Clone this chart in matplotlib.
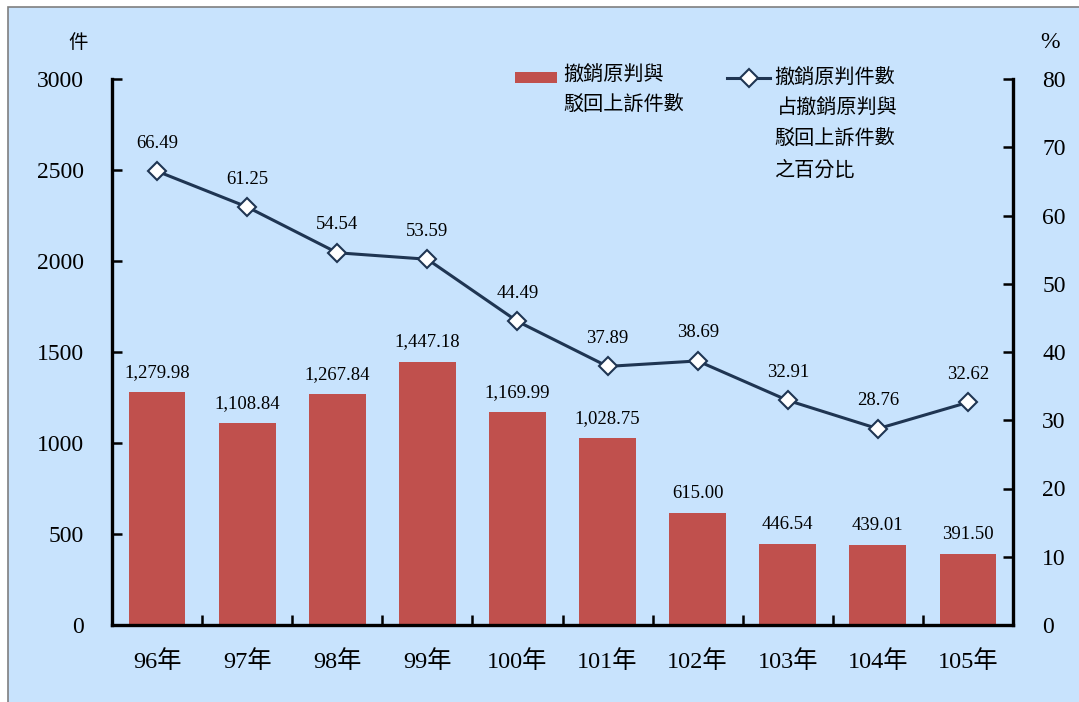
import numpy as np
import matplotlib
matplotlib.use("Agg")
import matplotlib.pyplot as plt
from matplotlib.patches import Rectangle
from matplotlib.lines import Line2D

# data
years = ["96年", "97年", "98年", "99年", "100年", "101年", "102年", "103年", "104年", "105年"]
cases = [1279.98, 1108.84, 1267.84, 1447.18, 1169.99, 1028.75, 615.00, 446.54, 439.01, 391.50]
percent = [66.49, 61.25, 54.54, 53.59, 44.49, 37.89, 38.69, 32.91, 28.76, 32.62]
left_ticks = [0, 500, 1000, 1500, 2000, 2500, 3000]
right_ticks = [0, 10, 20, 30, 40, 50, 60, 70, 80]

FONT = ["Liberation Serif", "Noto Sans CJK TC"]
CJK = ["Noto Sans CJK TC", "Liberation Serif"]
BG = "#C8E3FD"
BAR = "#C0504D"
LINE = "#1F3552"

plt.rcParams["font.family"] = FONT

fig = plt.figure(figsize=(10.79, 7.02), dpi=100)
fig.patch.set_facecolor("white")
bg = Rectangle((8 / 1079, -0.05), 1, 1.05 - 7 / 702, transform=fig.transFigure,
               facecolor=BG, edgecolor="#7F7F7F", linewidth=1.2, zorder=-10)
fig.add_artist(bg)

ax = fig.add_axes([112 / 1079, 1 - 625 / 702, (1013 - 112) / 1079, (625 - 79) / 702])
ax.set_facecolor("none")
ax2 = ax.twinx()
ax2.set_facecolor("none")

x = np.arange(len(years))
ax.bar(x, cases, width=0.63, color=BAR, zorder=2)
for xi, v in zip(x, cases):
    ax.annotate(f"{v:,.2f}", (xi, v), xytext=(0, 8), textcoords="offset points",
                ha="center", va="bottom", fontsize=13.5)

ax2.plot(x, percent, color=LINE, linewidth=2.2, marker="D", markersize=9,
         markerfacecolor="white", markeredgecolor=LINE, markeredgewidth=1.5, zorder=3)
for xi, v in zip(x, percent):
    ax2.annotate(f"{v:.2f}", (xi, v), xytext=(0, 14), textcoords="offset points",
                 ha="center", va="bottom", fontsize=13.5)

ax.set_xlim(-0.5, len(years) - 0.5)
ax.set_ylim(0, 3000)
ax2.set_ylim(0, 80)
ax.set_yticks(left_ticks)
ax2.set_yticks(right_ticks)
ax.set_xticks(x)
ax.set_xticklabels(years, fontsize=17.5, family=FONT)
ax.set_xticks(x[:-1] + 0.5, minor=True)
ax.tick_params(axis="x", which="major", length=0, pad=18)
ax.tick_params(axis="x", which="minor", direction="in", length=7, width=1.8)
ax.tick_params(axis="y", direction="in", length=7, width=1.8, labelsize=17, pad=20)
ax2.tick_params(axis="y", direction="in", length=7, width=1.8, labelsize=17, pad=21)

for a in (ax, ax2):
    a.spines["top"].set_visible(False)
    for s in ("left", "right", "bottom"):
        a.spines[s].set_linewidth(2.4)
ax.spines["right"].set_visible(False)
ax2.spines["left"].set_visible(False)
ax2.spines["bottom"].set_visible(False)

# unit labels
fig.text(78 / 1079, 1 - 42 / 702, "件", family=CJK, fontsize=14, ha="center", va="center")
fig.text(1050 / 1079, 1 - 42 / 702, "%", fontsize=17, ha="center", va="center")

# legend drawn by hand
fig.add_artist(Rectangle((515 / 1079, 1 - 83 / 702), 42 / 1079, 11 / 702,
                         transform=fig.transFigure, facecolor=BAR, edgecolor="none"))
fig.text(563 / 1079, 1 - 65 / 702, "撤銷原判與\n駁回上訴件數", family=CJK, fontsize=14.5,
         ha="left", va="top", linespacing=1.5)
fig.add_artist(Line2D([727 / 1079, 770 / 1079], [1 - 78 / 702, 1 - 78 / 702],
                      transform=fig.transFigure, color=LINE, linewidth=2.2))
fig.add_artist(Line2D([748.5 / 1079], [1 - 78 / 702], transform=fig.transFigure,
                      marker="D", markersize=9, markerfacecolor="white",
                      markeredgecolor=LINE, markeredgewidth=1.5, linestyle="none"))
fig.text(774 / 1079, 1 - 78 / 702, "撤銷原判件數", family=CJK, fontsize=14.5,
         ha="left", va="center")
fig.text(777 / 1079, 1 - 108 / 702, "占撤銷原判與", family=CJK, fontsize=14.5,
         ha="left", va="center")
fig.text(774 / 1079, 1 - 138 / 702, "駁回上訴件數", family=CJK, fontsize=14.5,
         ha="left", va="center")
fig.text(774 / 1079, 1 - 170 / 702, "之百分比", family=CJK, fontsize=14.5,
         ha="left", va="center")

fig.savefig("out.png", dpi=100, facecolor=fig.get_facecolor())
